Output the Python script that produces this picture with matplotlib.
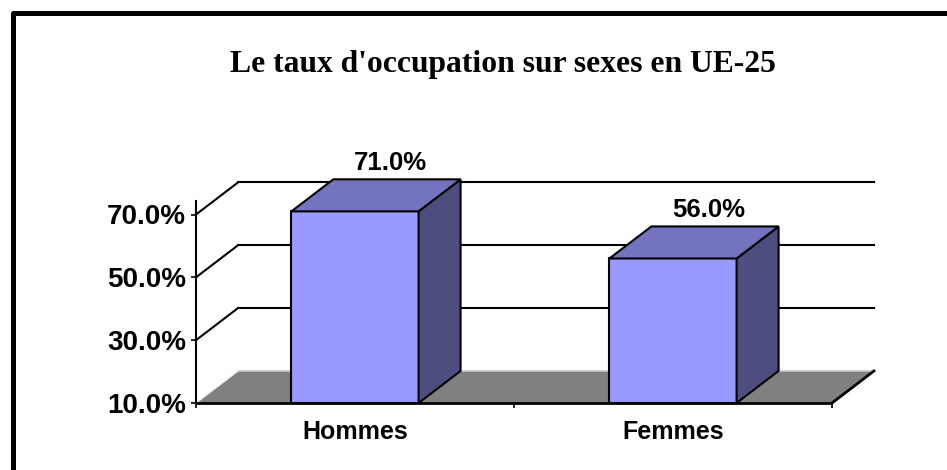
import numpy as np
import matplotlib
matplotlib.use("Agg")
import matplotlib.pyplot as plt
from matplotlib.patches import Polygon, Rectangle
from matplotlib.lines import Line2D

# data
categories = ["Hommes", "Femmes"]
rates = [71.0, 56.0]
yticks = [10, 30, 50, 70]
title = "Le taux d'occupation sur sexes en UE-25"

# look
front_col = "#9999FF"
top_col = "#7373BF"
side_col = "#4D4D80"
floor_col = "#808080"
sans = "Liberation Sans"
serif = "Liberation Serif"
W, H = 947, 470
depth_x, depth_y = 0.132, 10.2   # 3d depth in data units
bar_w = 0.40
base = 10

fig = plt.figure(figsize=(W / 100, H / 100), dpi=100)
fig.patch.set_facecolor("white")
ax = fig.add_axes([196 / W, 67 / H, 636 / W, 188.5 / H])
ax.set_xlim(-0.5, len(categories) - 0.5)
ax.set_ylim(yticks[0], yticks[-1])
ax.patch.set_visible(False)
for s in ["top", "right", "bottom", "left"]:
    ax.spines[s].set_visible(False)

x0, x1 = -0.5, len(categories) - 0.5

# floor
floor = Polygon([(x0, base), (x1, base), (x1 + depth_x, base + depth_y), (x0 + depth_x, base + depth_y)],
                closed=True, facecolor=floor_col, edgecolor="none", clip_on=False, zorder=1)
ax.add_patch(floor)
ax.plot([x0 + depth_x, x1 + depth_x], [base + depth_y] * 2, color="#C8C8C8", lw=1.2, clip_on=False, zorder=1.5)
ax.plot([x0, x0 + depth_x], [base, base + depth_y], color="#F0F0F0", lw=1.0, clip_on=False, zorder=1.5)
ax.plot([x1, x1 + depth_x], [base, base + depth_y], color="black", lw=2.0, clip_on=False, zorder=1.5)
ax.plot([x0, x1], [base, base], color="black", lw=2.0, clip_on=False, zorder=1.5, solid_capstyle="butt")

# back wall gridlines and side wall lines
for v in yticks[1:]:
    ax.plot([x0 + depth_x, x1 + depth_x], [v + depth_y] * 2, color="black", lw=1.5, clip_on=False, zorder=1.2)
    ax.plot([x0, x0 + depth_x], [v, v + depth_y], color="black", lw=1.5, clip_on=False, zorder=1.2)

# value axis line
ax.plot([x0, x0], [base, 74.3], color="black", lw=1.5, clip_on=False, zorder=3)

# bars
for i, v in enumerate(rates):
    l, r = i - bar_w / 2, i + bar_w / 2
    ax.add_patch(Rectangle((l, base), bar_w, v - base, facecolor=front_col, edgecolor="black",
                           lw=1.5, clip_on=False, zorder=4, joinstyle="miter"))
    ax.add_patch(Polygon([(r, base), (r + depth_x, base + depth_y), (r + depth_x, v + depth_y), (r, v)],
                         closed=True, facecolor=side_col, edgecolor="black", lw=1.5, clip_on=False,
                         zorder=4, joinstyle="miter"))
    ax.add_patch(Polygon([(l, v), (r, v), (r + depth_x, v + depth_y), (l + depth_x, v + depth_y)],
                         closed=True, facecolor=top_col, edgecolor="black", lw=1.5, clip_on=False,
                         zorder=4, joinstyle="miter"))
    ax.annotate(f"{v:.1f}%", (i + depth_x * 0.85, v + depth_y), xytext=(0, 3), textcoords="offset points",
                ha="center", va="bottom", fontsize=18.5, fontweight="bold", family=sans, zorder=5,
                annotation_clip=False)

# ticks
ax.set_yticks(yticks)
ax.set_yticklabels([f"{t:.1f}%" for t in yticks], fontsize=20, fontweight="bold", family=sans)
ax.tick_params(axis="y", length=3.6, width=1.2, pad=3.6, direction="out")
ax.set_xticks(range(len(categories)))
ax.set_xticklabels(categories, fontsize=18, fontweight="bold", family=sans)
ax.set_xticks(np.arange(len(categories) + 1) - 0.5, minor=True)
ax.tick_params(axis="x", which="major", length=0, pad=12)
ax.tick_params(axis="x", which="minor", length=3.6, width=1.2, direction="out")

fig.text(230 / W, 1 - 72 / H, title, ha="left", va="baseline", fontsize=22.8,
         fontweight="bold", family=serif)

# chart frame (right and bottom fall outside the image)
fig.add_artist(Line2D([12.5 / W, 12.5 / W, 1.2], [-0.2, 1 - 12.5 / H, 1 - 12.5 / H], color="black", lw=3.6,
                      solid_joinstyle="round", transform=fig.transFigure))

fig.savefig("out.png", dpi=100)
